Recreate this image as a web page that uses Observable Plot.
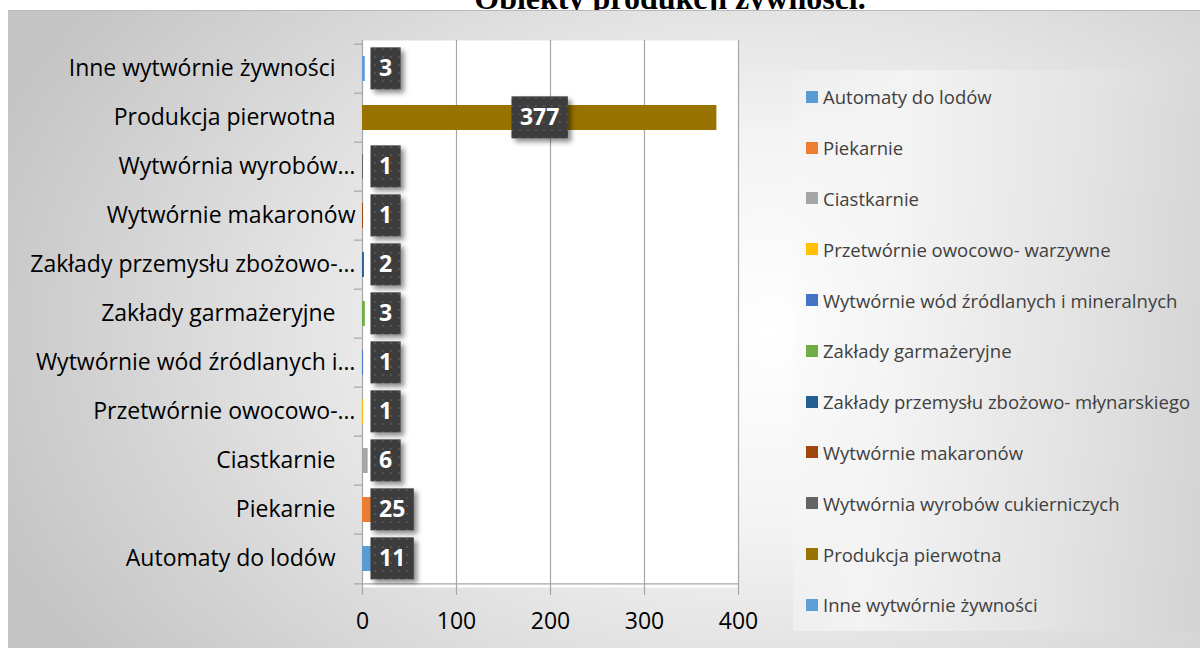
<!DOCTYPE html>
<html><head><meta charset="utf-8">
<script src="https://cdn.jsdelivr.net/npm/d3@7"></script>
<script src="https://cdn.jsdelivr.net/npm/@observablehq/plot@0.6"></script>
<style>
html,body{margin:0;padding:0;background:#fff;}
#root{position:relative;width:1200px;height:648px;overflow:hidden;font-family:"Open Sans",sans-serif;}
#title{position:absolute;left:0;width:1340px;top:-20px;line-height:32px;text-align:center;font:bold 32px "Liberation Serif","Times New Roman",serif;color:#000;white-space:nowrap;}
#panel{position:absolute;left:8px;top:10px;width:1192px;height:638px;border-top:1px solid #b9b9b9;box-sizing:border-box;
 background:radial-gradient(ellipse 820px 560px at 760px 320px,#ffffff 0%,#f3f3f3 35%,#c5c5c5 100%);}
#legendbox{position:absolute;left:793px;top:70px;width:407px;height:561px;
 background:linear-gradient(95deg,rgba(250,250,250,0.2) 0%,rgba(244,244,244,0.9) 25%,#e4e4e4 65%,#d3d3d3 100%);}
#chart{position:absolute;left:0;top:0;}
.leg{position:absolute;left:806px;height:20px;display:flex;align-items:center;font-family:"Open Sans",sans-serif;font-size:18.5px;color:#404040;white-space:nowrap;}
.leg .sw{width:12px;height:12px;margin-right:5px;flex:none;}
</style></head>
<body>
<div id="root">
 <div id="title">Obiekty produkcji żywności.</div>
 <div id="panel"></div>
 <div id="legendbox"></div>
 <div id="chart"></div>
</div>
<script>
const categories = ["Automaty do lodów","Piekarnie","Ciastkarnie","Przetwórnie owocowo- warzywne","Wytwórnie wód źródlanych i mineralnych","Zakłady garmażeryjne","Zakłady przemysłu zbożowo- młynarskiego","Wytwórnie makaronów","Wytwórnia wyrobów cukierniczych","Produkcja pierwotna","Inne wytwórnie żywności"];
const axisLabels = ["Automaty do lodów","Piekarnie","Ciastkarnie","Przetwórnie owocowo-…","Wytwórnie wód źródlanych i…","Zakłady garmażeryjne","Zakłady przemysłu zbożowo-…","Wytwórnie makaronów","Wytwórnia wyrobów…","Produkcja pierwotna","Inne wytwórnie żywności"];
const values = [11,25,6,1,1,3,2,1,1,377,3];
const colors = ["#5B9BD5","#ED7D31","#A5A5A5","#FFC000","#4472C4","#70AD47","#255E91","#9E480E","#636363","#997300","#5E9ED6"];
const xTicks = [0,100,200,300,400];
const longLabels = ["Przetwórnie owocowo- warzywne","Wytwórnie wód źródlanych i mineralnych","Zakłady przemysłu zbożowo- młynarskiego","Wytwórnie makaronów","Wytwórnia wyrobów cukierniczych"];

const data = categories.map((c,i)=>({category:c,label:axisLabels[i],value:values[i]}));
const labelOf = new Map(categories.map((c,i)=>[c,axisLabels[i]]));

const W=1200,H=648,mT=40,mB=61,mL=362,mR=462;
const step=(H-mT-mB)/categories.length;
const grey="#a6a6a6";

const plot = Plot.plot({
  width:W,height:H,marginTop:mT,marginBottom:mB,marginLeft:mL,marginRight:mR,
  style:{background:"transparent",fontFamily:"'Open Sans', sans-serif",color:"#000",overflow:"visible"},
  x:{domain:[0,400]},
  y:{domain:categories.slice().reverse(),paddingInner:0.5,paddingOuter:0.25},
  color:{domain:categories,range:colors},
  marks:[
    Plot.frame({fill:"white",stroke:"none"}),
    Plot.ruleX(xTicks,{x:d=>d,stroke:grey,strokeWidth:1.2,insetBottom:-8}),
    Plot.ruleY(categories,{y:d=>d,x1:0,x2:0,dy:-step/2,insetLeft:-8,stroke:grey,strokeWidth:1.2}),
    Plot.ruleY([categories[0]],{y:d=>d,dy:step/2,insetLeft:-8,stroke:grey,strokeWidth:1.2}),
    Plot.axisX({ticks:xTicks,tickSize:0,tickPadding:25,fontSize:23,label:null}),
    Plot.axisY({ticks:categories.filter(c=>!longLabels.includes(c)),tickSize:0,tickPadding:27,fontSize:23,label:null,tickFormat:d=>labelOf.get(d)}),
    Plot.axisY({ticks:longLabels,tickSize:0,tickPadding:7,fontSize:23,label:null,tickFormat:d=>labelOf.get(d)}),
    Plot.barX(data,{x:"value",y:"category",fill:"category"}),
    Plot.text(data.filter(d=>d.value>=100),{x:d=>d.value/2,y:"category",text:d=>String(d.value),fill:"white",fontWeight:"bold",fontSize:23}),
    Plot.text(data.filter(d=>d.value<100),{x:0,y:"category",text:d=>String(d.value),textAnchor:"start",dx:16.5,fill:"white",fontWeight:"bold",fontSize:23})
  ]
});
document.getElementById("chart").appendChild(plot);

// defs for label boxes
const svg=d3.select(plot);
const defs=svg.insert("defs",":first-child");
const pat=defs.append("pattern").attr("id","dots").attr("width",8).attr("height",8).attr("patternUnits","userSpaceOnUse");
pat.append("rect").attr("width",8).attr("height",8).attr("fill","#3e3e3e");
pat.append("circle").attr("cx",4).attr("cy",4).attr("r",1.1).attr("fill","#565656");
const filt=defs.append("filter").attr("id","shadow").attr("x","-30%").attr("y","-30%").attr("width","170%").attr("height","170%");
filt.append("feDropShadow").attr("dx",3.5).attr("dy",3.5).attr("stdDeviation",2.5).attr("flood-color","#000").attr("flood-opacity",0.45);

svg.selectAll("text").filter(function(){
  const p=this.parentNode;
  return (this.getAttribute("fill")==="white")||(p&&p.getAttribute&&p.getAttribute("fill")==="white");
}).each(function(){
  const t=this;
  const b=t.getBBox();
  const w=b.width+17,h=42;
  const cx=b.x+b.width/2, cy=b.y+b.height/2+1;
  const r=document.createElementNS("http://www.w3.org/2000/svg","rect");
  r.setAttribute("x",cx-w/2);r.setAttribute("y",cy-h/2);
  r.setAttribute("width",w);r.setAttribute("height",h);
  const tr=t.getAttribute("transform");
  if(tr) r.setAttribute("transform",tr);
  r.setAttribute("fill","url(#dots)");r.setAttribute("filter","url(#shadow)");
  t.parentNode.insertBefore(r,t);
});

// legend
const root=document.getElementById("root");
categories.forEach((c,i)=>{
  const d=document.createElement("div");
  d.className="leg";
  d.style.top=(96.8+i*50.8-10)+"px";
  d.innerHTML=`<span class="sw" style="background:${colors[i]}"></span><span>${c}</span>`;
  root.appendChild(d);
});
</script>
</body></html>
